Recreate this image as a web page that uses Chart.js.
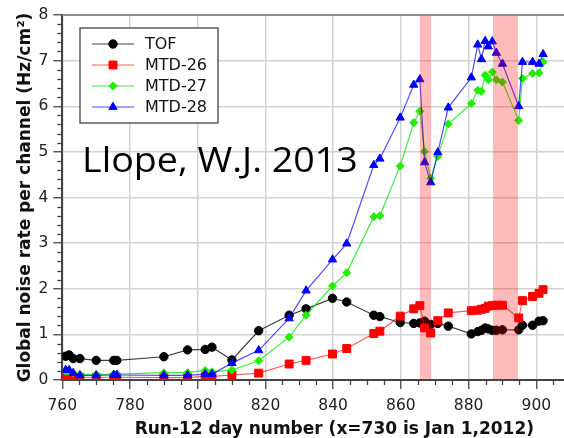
<!DOCTYPE html>
<html><head><meta charset="utf-8">
<script src="https://cdn.jsdelivr.net/npm/chart.js@4.4.1/dist/chart.umd.min.js"></script>
<style>
html,body{margin:0;padding:0;background:#fff;overflow:hidden;width:564px;height:438px;}
#wrap{position:relative;width:613px;height:438px;}
</style></head><body>
<div id="wrap"><canvas id="c" width="613" height="438"></canvas></div>
<script>
const days = [761, 762, 763.2, 765.2, 770, 775.2, 776.1, 790, 797, 802.2, 804.2, 810.1, 818, 827, 832, 839.8, 844, 852, 853.8, 859.8, 863.8, 865.6, 867, 868.8, 870.9, 874, 880.8, 882.7, 883.8, 884.9, 885.8, 887, 888.2, 890, 894.8, 895.9, 898.9, 900.8, 902];
const tof   = [0.52, 0.55, 0.47, 0.47, 0.43, 0.43, 0.43, 0.51, 0.66, 0.67, 0.72, 0.44, 1.08, 1.42, 1.56, 1.79, 1.71, 1.42, 1.39, 1.26, 1.24, 1.25, 1.29, 1.22, 1.24, 1.18, 1.01, 1.06, 1.09, 1.14, 1.12, 1.09, 1.09, 1.10, 1.10, 1.20, 1.20, 1.29, 1.30];
const mtd26 = [0.06, 0.08, 0.07, 0.06, 0.06, 0.06, 0.06, 0.05, 0.05, 0.08, 0.08, 0.11, 0.15, 0.35, 0.43, 0.57, 0.69, 1.02, 1.07, 1.40, 1.56, 1.63, 1.14, 1.03, 1.30, 1.47, 1.52, 1.53, 1.55, 1.57, 1.62, 1.63, 1.64, 1.64, 1.36, 1.74, 1.83, 1.90, 1.98];
const mtd27 = [0.19, 0.18, 0.16, 0.12, 0.12, 0.13, 0.13, 0.16, 0.16, 0.21, 0.18, 0.22, 0.42, 0.94, 1.42, 2.06, 2.35, 3.58, 3.60, 4.69, 5.64, 5.89, 5.01, 4.42, 4.90, 5.61, 6.06, 6.35, 6.33, 6.68, 6.58, 6.75, 6.58, 6.53, 5.69, 6.61, 6.72, 6.73, 6.97];
const mtd28 = [0.22, 0.22, 0.15, 0.10, 0.10, 0.11, 0.11, 0.10, 0.10, 0.13, 0.13, 0.37, 0.65, 1.35, 1.96, 2.64, 2.99, 4.71, 4.85, 5.75, 6.47, 6.59, 4.77, 4.33, 4.99, 5.97, 6.63, 7.35, 7.03, 7.43, 7.31, 7.42, 7.17, 6.93, 6.00, 6.97, 6.97, 6.93, 7.14];
const seriesNames = ['TOF', 'MTD-26', 'MTD-27', 'MTD-28'];
const xTicks = [760, 780, 800, 820, 840, 860, 880, 900];
const yTicks = [0, 1, 2, 3, 4, 5, 6, 7, 8];
const bandStart = [865.6, 887.2];
const bandEnd = [868.9, 894.6];
const noteText = 'Llope, W.J. 2013';
const xTitle = 'Run-12 day number (x=730 is Jan 1,2012)';
const yTitle = 'Global noise rate per channel (Hz/cm\u00B2)';

const seriesValues = [tof, mtd26, mtd27, mtd28];
const lineColors = ['rgba(0,0,0,0.75)', 'rgba(255,0,0,0.65)', 'rgba(0,230,0,0.75)', 'rgba(0,0,255,0.7)'];
const markColors = ['#000000', '#ff0000', '#22ee00', '#0000ff'];
const styles = ['circle', 'rect', 'rectRot', 'triangle'];
const radii = [4.2, 5.6, 4, 4.8];

const datasets = seriesNames.map((name, k) => ({
  label: name,
  data: days.map((d, i) => ({x: d, y: seriesValues[k][i]})),
  borderColor: lineColors[k],
  borderWidth: 1.2,
  backgroundColor: markColors[k],
  pointBackgroundColor: markColors[k],
  pointBorderColor: markColors[k],
  pointBorderWidth: 1,
  pointStyle: styles[k],
  pointRadius: radii[k],
  tension: 0,
  order: 3 - k
}));

function drawMarker(ctx, style, r, x, y, color) {
  ctx.save();
  ctx.fillStyle = color; ctx.strokeStyle = color; ctx.lineWidth = 1;
  if (Chart.helpers && Chart.helpers.drawPoint) {
    Chart.helpers.drawPoint(ctx, {pointStyle: style, radius: r, borderWidth: 1, rotation: 0}, x, y);
  } else {
    ctx.beginPath(); ctx.arc(x, y, r, 0, Math.PI * 2); ctx.fill();
  }
  ctx.restore();
}

const extras = {
  id: 'extras',
  afterDatasetsDraw(chart) {
    const {ctx, chartArea: a, scales: {x, y}} = chart;
    ctx.save();
    ctx.beginPath(); ctx.rect(a.left, a.top, a.right - a.left, a.bottom - a.top); ctx.clip();
    ctx.fillStyle = 'rgba(255,0,0,0.27)';
    for (let i = 0; i < bandStart.length; i++) {
      const x0 = x.getPixelForValue(bandStart[i]), x1 = x.getPixelForValue(bandEnd[i]);
      ctx.fillRect(x0, a.top, x1 - x0, a.bottom - a.top);
    }
    ctx.restore();
    ctx.save();
    ctx.strokeStyle = '#8a8a8a'; ctx.lineWidth = 2;
    ctx.beginPath(); ctx.moveTo(a.left, a.top); ctx.lineTo(a.right, a.top); ctx.stroke();
    ctx.restore();
    ctx.save();
    ctx.fillStyle = '#000'; ctx.font = '35px "Open Sans"'; ctx.textBaseline = 'alphabetic'; ctx.textAlign = 'left';
    ctx.translate(82, 171.5); ctx.scale(1.075, 1);
    ctx.fillText(noteText, 0, 0);
    ctx.restore();
    ctx.save();
    ctx.fillStyle = '#fff'; ctx.strokeStyle = '#333'; ctx.lineWidth = 1.2;
    ctx.fillRect(80, 28, 138, 95); ctx.strokeRect(80, 28, 138, 95);
    chart.data.datasets.forEach((ds, i) => {
      const yy = 44 + i * 21;
      ctx.strokeStyle = ds.borderColor; ctx.lineWidth = 1.2;
      ctx.beginPath(); ctx.moveTo(92, yy); ctx.lineTo(134, yy); ctx.stroke();
      drawMarker(ctx, ds.pointStyle, ds.pointRadius, 113, yy, ds.pointBackgroundColor);
      ctx.fillStyle = '#111'; ctx.font = '16px "DejaVu Sans"'; ctx.textBaseline = 'middle'; ctx.textAlign = 'left';
      ctx.fillText(ds.label, 145, yy + 1);
    });
    ctx.restore();
  },
  afterDraw(chart) {
    const {ctx, chartArea: a, scales: {x, y}} = chart;
    ctx.save();
    ctx.strokeStyle = '#444'; ctx.lineWidth = 1.3;
    for (let v = 765; v < x.max; v += 5) {
      if (v % 20 === 0) continue;
      const px = Math.round(x.getPixelForValue(v)) + 0.5;
      ctx.beginPath(); ctx.moveTo(px, a.bottom); ctx.lineTo(px, a.bottom + 5); ctx.stroke();
    }
    for (let k = 1; k < 40; k++) {
      if (k % 5 === 0) continue;
      const py = Math.round(y.getPixelForValue(k * 0.2)) + 0.5;
      ctx.beginPath(); ctx.moveTo(a.left - 5, py); ctx.lineTo(a.left, py); ctx.stroke();
    }
    ctx.restore();
  }
};

new Chart(document.getElementById('c'), {
  type: 'line',
  data: {datasets},
  options: {
    animation: false, responsive: false, devicePixelRatio: 1,
    layout: {padding: {top: 15, right: 0, left: 0, bottom: 0}},
    plugins: {legend: {display: false}, tooltip: {enabled: false}},
    scales: {
      x: {
        type: 'linear', min: 760, max: 920.7,
        afterFit(s) { s.height = 58; },
        afterBuildTicks(s) { s.ticks = xTicks.map(v => ({value: v})); },
        grid: {color: '#d2d2d2', lineWidth: 1.5, tickLength: 9, tickColor: '#444', tickWidth: 1.3},
        border: {color: '#444', width: 2},
        ticks: {font: {family: 'DejaVu Sans', size: 15.5}, color: '#222', padding: 8, maxRotation: 0, autoSkip: false},
        title: {display: true, text: xTitle, color: '#111', font: {family: 'DejaVu Sans', size: 17, weight: 'bold', lineHeight: 1}, padding: {top: 0, bottom: 0}}
      },
      y: {
        min: 0, max: 8,
        afterFit(s) { s.width = 62.3; },
        afterBuildTicks(s) { s.ticks = yTicks.map(v => ({value: v})); },
        grid: {color: '#d2d2d2', lineWidth: 1.5, tickLength: 9, tickColor: '#444', tickWidth: 1.3},
        border: {color: '#444', width: 2},
        ticks: {font: {family: 'DejaVu Sans', size: 15.5}, color: '#222', padding: 5, autoSkip: false},
        title: {display: true, text: yTitle, color: '#111', font: {family: 'DejaVu Sans', size: 17, weight: 'bold', lineHeight: 1}, padding: {top: 17, bottom: 0}}
      }
    }
  },
  plugins: [extras]
});
</script>
</body></html>
